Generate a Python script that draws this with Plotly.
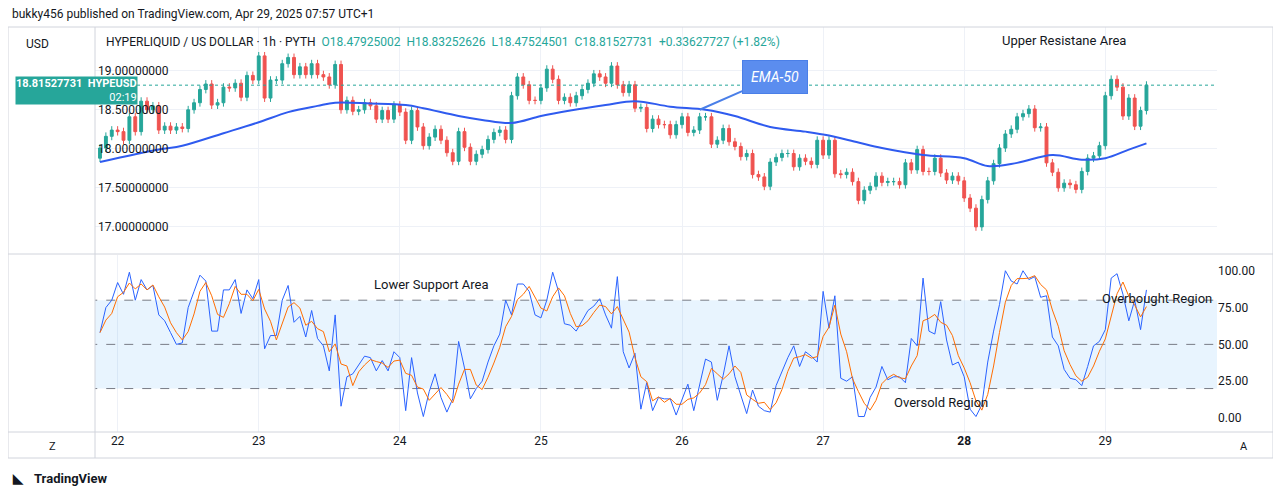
import pandas as pd
import plotly.graph_objects as go
from plotly.subplots import make_subplots

closes = [18.01,18.16,18.24,18.22,18.11,18.41,18.22,18.61,18.50,18.55,18.24,18.29,18.24,18.28,18.26,18.50,18.59,18.76,18.83,18.56,
          18.59,18.79,18.78,18.84,18.66,18.94,18.88,19.19,18.65,18.88,18.88,19.09,19.17,18.95,19.05,18.95,19.09,18.95,18.92,18.82,
          19.08,18.50,18.62,18.48,18.50,18.59,18.55,18.38,18.49,18.38,18.56,18.47,18.11,18.49,18.28,18.04,18.15,18.25,18.11,17.95,
          17.84,18.22,18.02,17.84,17.93,17.99,18.12,18.21,18.24,18.12,18.68,18.92,18.82,18.62,18.62,18.78,19.02,18.89,18.62,18.66,
          18.59,18.68,18.76,18.84,18.96,18.92,18.84,19.06,18.82,18.72,18.82,18.52,18.53,18.26,18.38,18.31,18.31,18.18,18.31,18.41,
          18.21,18.24,18.41,18.41,18.06,18.11,18.26,18.09,18.03,17.90,17.94,17.67,17.64,17.52,17.83,17.89,17.94,17.94,17.77,17.88,
          17.84,17.80,18.11,17.92,18.11,17.68,17.67,17.70,17.58,17.34,17.47,17.52,17.65,17.57,17.58,17.58,17.54,17.82,17.73,17.99,
          17.71,17.71,17.88,17.69,17.60,17.65,17.59,17.37,17.24,17.00,17.35,17.59,17.81,18.01,18.19,18.25,18.41,18.45,18.51,18.27,
          18.28,17.82,17.70,17.50,17.56,17.54,17.48,17.71,17.88,17.91,18.04,18.68,18.89,18.79,18.42,18.65,18.29,18.49,18.815]
first_open = 17.88
wick = 0.05

ema_idx = [0,10,14,21,27,32,37,40,46,52,55,61,65,70,75,80,86,91,97,103,108,114,120,124,129,133,140,147,151,156,162,167,171,175,178]
ema_val = [17.83,17.99,18.04,18.20,18.34,18.47,18.55,18.59,18.58,18.56,18.52,18.42,18.37,18.33,18.42,18.49,18.56,18.61,18.54,18.50,
           18.42,18.28,18.22,18.17,18.08,18.01,17.92,17.88,17.78,17.82,17.92,17.86,17.88,17.99,18.07]

k_vals = [58,75,80,92,84,99,80,94,87,90,70,66,58,50,51,75,86,97,93,59,59,87,87,94,71,87,81,94,47,56,
          56,80,90,65,69,55,73,54,49,32,70,8,28,30,36,42,41,32,39,32,45,41,5,41,17,1,18,30,14,4,
          13,52,34,13,20,25,38,49,57,80,70,91,91,86,70,68,80,99,86,64,63,59,66,73,76,81,70,61,96,45,
          34,44,6,24,5,14,13,13,2,13,23,5,23,40,38,12,29,49,28,16,3,19,8,5,4,22,32,41,49,35,
          45,42,38,86,61,83,27,25,28,1,1,14,21,35,26,28,28,24,54,49,95,59,57,79,53,36,38,28,6,1,
          9,38,59,77,100,93,91,100,94,96,82,83,55,49,33,27,26,22,35,49,52,60,95,98,84,66,80,60,87]

day_ticks = ["2025-04-22","2025-04-23","2025-04-24","2025-04-25","2025-04-26","2025-04-27","2025-04-28","2025-04-29"]
day_text = ["22","23","24","25","26","27","<b>28</b>","29"]
price_ticks = [17.0,17.5,18.0,18.5,19.0]
osc_ticks = [0,25,50,75,100]

start = pd.Timestamp("2025-04-21 21:00")
t = [start + pd.Timedelta(hours=i) for i in range(len(closes))]
opens = [first_open] + closes[:-1]
highs = [max(o, c) + wick for o, c in zip(opens, closes)]
lows = [min(o, c) - wick for o, c in zip(opens, closes)]
t_ema = [start + pd.Timedelta(hours=i) for i in ema_idx]
d_vals = pd.Series(k_vals).rolling(3, min_periods=1).mean().tolist()

fig = make_subplots(rows=2, cols=1, shared_xaxes=True, vertical_spacing=0.005, row_heights=[0.56, 0.44])
fig.add_trace(go.Candlestick(x=t, open=opens, high=highs, low=lows, close=closes,
                             increasing=dict(line=dict(color="#26a69a", width=1), fillcolor="#26a69a"),
                             decreasing=dict(line=dict(color="#ef5350", width=1), fillcolor="#ef5350"),
                             whiskerwidth=0, showlegend=False), row=1, col=1)
fig.add_trace(go.Scatter(x=t_ema, y=ema_val, mode="lines", line=dict(color="#2f5bef", width=2, shape="spline"),
                         showlegend=False, hoverinfo="skip"), row=1, col=1)
tl = [start + pd.Timedelta(hours=-2), start + pd.Timedelta(hours=200)]
fig.add_trace(go.Scatter(x=tl, y=[20, 20], mode="lines", line=dict(width=0), showlegend=False, hoverinfo="skip"), row=2, col=1)
fig.add_trace(go.Scatter(x=tl, y=[80, 80], mode="lines", line=dict(width=0), fill="tonexty",
                         fillcolor="rgba(33,150,243,0.10)", showlegend=False, hoverinfo="skip"), row=2, col=1)
for lv in [80, 50, 20]:
    fig.add_trace(go.Scatter(x=tl, y=[lv, lv], mode="lines", line=dict(color="#787b86", width=1, dash="dash"),
                             showlegend=False, hoverinfo="skip"), row=2, col=1)
fig.add_trace(go.Scatter(x=t, y=k_vals, mode="lines", line=dict(color="#2962ff", width=1), showlegend=False), row=2, col=1)
fig.add_trace(go.Scatter(x=t, y=d_vals, mode="lines", line=dict(color="#ff6d00", width=1), showlegend=False), row=2, col=1)

xr = [start + pd.Timedelta(minutes=-51), start + pd.Timedelta(hours=190)]
grid = "#eef1f7"
fig.update_xaxes(range=xr, showgrid=True, gridcolor=grid, tickvals=[pd.Timestamp(d) for d in day_ticks],
                 ticktext=day_text, rangeslider_visible=False, zeroline=False, showline=False,
                 tickfont=dict(family="Roboto", size=12, color="#131722"))
fig.update_xaxes(showticklabels=False, row=1, col=1)
fig.update_yaxes(row=1, col=1, range=[16.67, 19.56], tickvals=price_ticks, tickformat=".8f", side="left",
                 ticklabelposition="inside", showgrid=True, gridcolor=grid, zeroline=False,
                 tickfont=dict(family="Roboto", size=12, color="#131722"))
fig.update_yaxes(row=2, col=1, range=[-9.5, 110.9], tickvals=osc_ticks, tickformat=".2f", side="right",
                 showgrid=False, zeroline=False, tickfont=dict(family="Roboto", size=12, color="#131722"))

fig.add_hline(y=closes[-1], line=dict(color="#26a69a", width=1, dash="dot"), row=1, col=1)

W = 1122.0
def px(x):
    return (x - 95) / W
def py(y):
    return (432 - y) / 405.0

anns = [
    dict(text="bukky456 published on TradingView.com, Apr 29, 2025 07:57 UTC+1", x=px(10), y=py(14), xanchor="left",
         font=dict(size=12, color="#131722")),
    dict(text="HYPERLIQUID / US DOLLAR · 1h · PYTH  <span style='color:#26a69a'>O18.47925002  H18.83252626  L18.47524501  C18.81527731  +0.33627727 (+1.82%)</span>",
         x=px(104), y=py(42), xanchor="left", font=dict(size=12, color="#131722")),
    dict(text="USD", x=px(24), y=py(44), xanchor="left", font=dict(size=12, color="#131722")),
    dict(text="<b>18.81527731</b>  <b>HYPEUSD</b><br>02:19", x=px(15), y=py(91), xanchor="left", align="right",
         bgcolor="#26a69a", font=dict(size=11, color="white"), borderpad=0),
    dict(text="Upper Resistane Area", x=px(1064), y=py(41), font=dict(size=13, color="#131722")),
    dict(text="Lower Support Area", x=px(431), y=py(284), font=dict(size=13, color="#131722")),
    dict(text="Overbought Region", x=px(1157), y=py(298), font=dict(size=13, color="#131722")),
    dict(text="Oversold Region", x=px(941), y=py(402), font=dict(size=13, color="#131722")),
    dict(text="Z", x=px(52), y=py(446), font=dict(size=11, color="#131722")),
    dict(text="A", x=px(1244), y=py(446), font=dict(size=11, color="#131722")),
    dict(text="<b>TradingView</b>", x=px(32), y=py(478), xanchor="left", font=dict(size=13, color="#131722")),
    dict(text="<b>◣</b>", x=px(10), y=py(478), xanchor="left", font=dict(size=13, color="#131722")),
]
for a in anns:
    a.setdefault("xref", "paper"); a.setdefault("yref", "paper"); a.setdefault("showarrow", False)
    a.setdefault("xanchor", "center"); a.setdefault("yanchor", "middle")
    fig.add_annotation(**a)
fig.add_annotation(x=t[102], y=18.50, xref="x", yref="y", text="<i>EMA-50</i>", showarrow=True, arrowhead=0,
                   arrowwidth=2, arrowcolor="#4a7fe8", ax=75, ay=-33, bgcolor="#5b8def", bordercolor="#4a7fe8",
                   borderwidth=1, borderpad=8, font=dict(size=14, color="white"))

shapes = [
    dict(type="line", xref="paper", yref="paper", x0=1, x1=1, y0=py(458), y1=py(27), line=dict(color="#787b86", width=1)),
    dict(type="line", xref="paper", yref="paper", x0=0, x1=0, y0=py(458), y1=py(27), line=dict(color="#d1d4dc", width=1)),
    dict(type="line", xref="paper", yref="paper", x0=px(8), x1=px(1273), y0=py(254), y1=py(254), line=dict(color="#d1d4dc", width=1)),
    dict(type="line", xref="paper", yref="paper", x0=px(8), x1=px(1273), y0=0, y1=0, line=dict(color="#d1d4dc", width=1)),
    dict(type="rect", xref="paper", yref="paper", x0=px(8), x1=px(1273), y0=py(458), y1=py(27), line=dict(color="#d1d4dc", width=1)),
]
fig.update_layout(width=1281, height=496, margin=dict(l=87, r=72, t=19, b=72), paper_bgcolor="white",
                  plot_bgcolor="white", shapes=shapes, font=dict(family="Roboto"), hovermode=False)
fig.write_html("out.html")
